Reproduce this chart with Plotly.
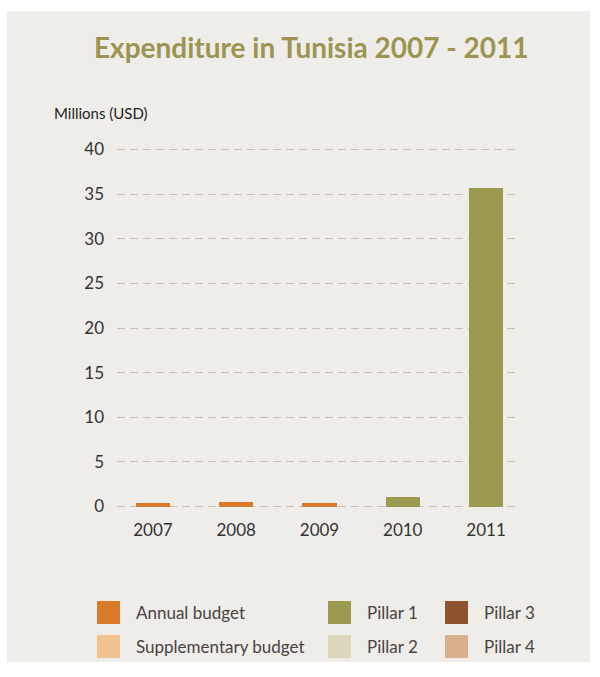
import plotly.graph_objects as go

years = ["2007", "2008", "2009", "2010", "2011"]
annual_budget = [0.35, 0.5, 0.45, 0, 0]
supplementary_budget = [0, 0, 0, 0, 0]
pillar1 = [0, 0, 0, 1.05, 35.7]
pillar2 = [0, 0, 0, 0, 0]
pillar3 = [0, 0, 0, 0, 0]
pillar4 = [0, 0, 0, 0, 0]
y_ticks = [0, 5, 10, 15, 20, 25, 30, 35, 40]

series = [
    ("Annual budget", annual_budget, "#d97a2b"),
    ("Supplementary budget", supplementary_budget, "#f2c390"),
    ("Pillar 1", pillar1, "#9c9a4f"),
    ("Pillar 2", pillar2, "#dcd8b9"),
    ("Pillar 3", pillar3, "#8e532e"),
    ("Pillar 4", pillar4, "#d8b08a"),
]

FONT = "Lato, sans-serif"

fig = go.Figure()
for name, vals, col in series:
    fig.add_trace(go.Bar(x=list(range(len(years))), y=vals, name=name,
                         marker=dict(color=col, line=dict(width=0)),
                         width=0.41, showlegend=False))

W, H = 600, 677
L, R, T, B = 117, 80, 145, 166

fig.update_layout(
    width=W, height=H, barmode="stack",
    margin=dict(l=L, r=R, t=T, b=B),
    paper_bgcolor="white", plot_bgcolor="rgba(0,0,0,0)",
    font=dict(family=FONT, color="#333333"),
    xaxis=dict(range=[-0.432, 4.408], tickvals=list(range(len(years))), ticktext=years,
               showgrid=False, zeroline=False, showline=False, ticks="",
               ticklabelstandoff=7,
               tickfont=dict(size=17, color="#333333", family=FONT)),
    yaxis=dict(range=[-0.5, 40.5], tickvals=y_ticks, showgrid=True, gridcolor="#c9bfb9",
               griddash="8px,5px", gridwidth=1, zeroline=False, showline=False, ticks="",
               ticklabelstandoff=12,
               tickfont=dict(size=17, color="#333333", family=FONT)),
    showlegend=False,
)

def px_x(x):
    return (x - L) / (W - L - R)

def px_y(y):
    return ((H - B) - y) / (H - T - B)

# card background
fig.add_shape(type="rect", xref="paper", yref="paper", layer="below",
              x0=px_x(7), x1=px_x(590), y0=px_y(662), y1=px_y(11),
              fillcolor="#efede9", line=dict(width=0))

# Title
fig.add_annotation(text="<b>Expenditure in Tunisia 2007 - 2011</b>", xref="paper", yref="paper",
                   x=px_x(311), y=px_y(47), xanchor="center", yanchor="middle", showarrow=False,
                   font=dict(size=28, color="#9c9450", family=FONT))
fig.add_annotation(text="Millions (USD)", xref="paper", yref="paper",
                   x=px_x(52), y=px_y(113), xanchor="left", yanchor="middle", showarrow=False,
                   font=dict(size=15, color="#222222", family=FONT))

# Manual legend
legend_pos = [(97, 601), (97, 635), (328, 601), (328, 635), (445, 601), (445, 635)]
for (name, vals, col), (lx, ly) in zip(series, legend_pos):
    fig.add_shape(type="rect", xref="paper", yref="paper",
                  x0=px_x(lx), x1=px_x(lx + 23), y0=px_y(ly + 23), y1=px_y(ly),
                  fillcolor=col, line=dict(width=0))
    fig.add_annotation(text=name, xref="paper", yref="paper",
                       x=px_x(lx + 37), y=px_y(ly + 11.5), xanchor="left", yanchor="middle",
                       showarrow=False, font=dict(size=17, color="#4a4242", family=FONT))

fig.write_html("out.html")
